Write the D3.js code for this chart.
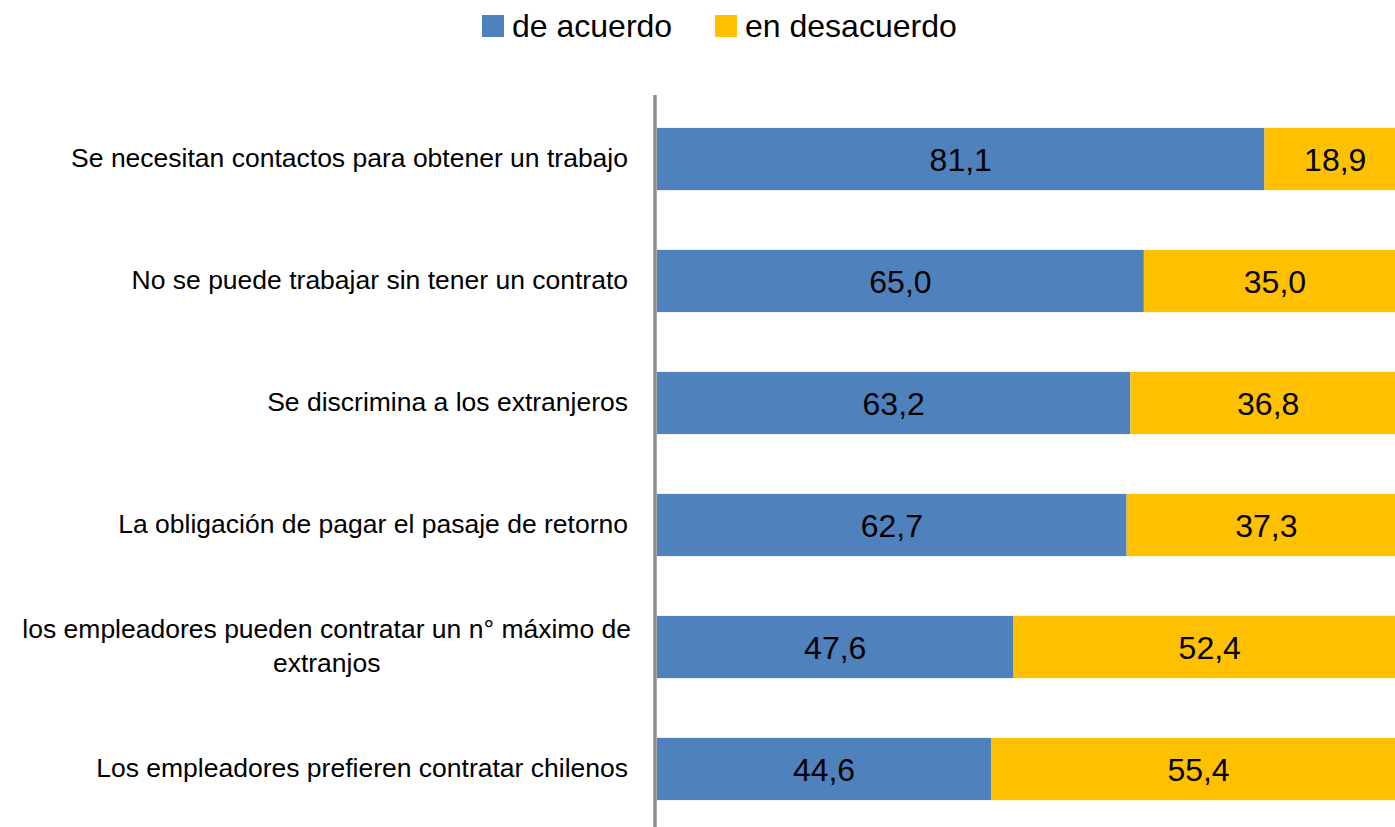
<!DOCTYPE html>
<meta charset="utf-8">
<html>
<head>
<script src="https://cdn.jsdelivr.net/npm/d3@7"></script>
<style>
  body { margin: 0; background: #fff; }
  svg { display: block; font-family: "Liberation Sans", Arial, sans-serif; }
  .axis-line { stroke: #8c8c8c; stroke-width: 3.5px; }
</style>
</head>
<body>
<div id="chart"></div>
<script>
// categories, top to bottom (wrapped labels split with "|")
var categories = [
  "Se necesitan contactos para obtener un trabajo",
  "No se puede trabajar sin tener un contrato",
  "Se discrimina a los extranjeros",
  "La obligación de pagar el pasaje de retorno",
  "los empleadores pueden contratar un n° máximo de|extranjos",
  "Los empleadores prefieren contratar chilenos"
];
var deAcuerdo    = [81.1, 65.0, 63.2, 62.7, 47.6, 44.6];
var enDesacuerdo = [18.9, 35.0, 36.8, 37.3, 52.4, 55.4];
var seriesNames  = ["de acuerdo", "en desacuerdo"];
var seriesColors = ["#4f81bd", "#ffc000"];

var width = 1395, height = 827;

var svg = d3.select("#chart").append("svg")
    .attr("width", width)
    .attr("height", height);

var x = d3.scaleLinear().domain([0, 100]).range([657, 1406]);
var y = d3.scaleBand().domain(categories).range([98, 830]).paddingInner(0.49).paddingOuter(0.245);

var rows = categories.map(function(c, i) {
  return { cat: c, vals: [deAcuerdo[i], enDesacuerdo[i]] };
});

var stack = d3.stack().keys([0, 1]).value(function(d, k) { return d.vals[k]; });
var layers = stack(rows);

// bars
var g = svg.append("g");
layers.forEach(function(layer, k) {
  g.selectAll(".bar" + k)
    .data(layer)
    .enter().append("rect")
    .attr("class", "bar" + k)
    .attr("x", function(d) { return x(d[0]); })
    .attr("width", function(d) { return x(d[1]) - x(d[0]); })
    .attr("y", function(d) { return y(d.data.cat); })
    .attr("height", y.bandwidth())
    .attr("fill", seriesColors[k]);

  g.selectAll(".val" + k)
    .data(layer)
    .enter().append("text")
    .attr("x", function(d) { return (x(d[0]) + x(d[1])) / 2; })
    .attr("y", function(d) { return y(d.data.cat) + y.bandwidth() / 2; })
    .attr("dy", "0.36em")
    .attr("text-anchor", "middle")
    .attr("font-size", "32px")
    .attr("fill", "#000")
    .text(function(d) { return d3.format(".1f")(d[1] - d[0]).replace(".", ","); });
});

// vertical axis line
svg.append("line")
  .attr("class", "axis-line")
  .attr("x1", 655).attr("x2", 655)
  .attr("y1", 95).attr("y2", height);

// category labels
var labels = svg.append("g").selectAll("text")
  .data(categories)
  .enter().append("text")
  .attr("font-size", "26.5px")
  .attr("fill", "#000");

labels.each(function(c) {
  var lines = c.split("|");
  var t = d3.select(this);
  var cy = y(c) + y.bandwidth() / 2;
  if (lines.length === 1) {
    t.attr("x", 628).attr("y", cy).attr("dy", "0.3em")
      .attr("text-anchor", "end").text(lines[0]);
  } else {
    // block right aligned, lines centred on each other
    var lh = 34;
    t.attr("text-anchor", "middle");
    lines.forEach(function(l, i) {
      t.append("tspan")
        .attr("x", 0)
        .attr("y", cy + (i - (lines.length - 1) / 2) * lh)
        .attr("dy", "0.3em")
        .text(l);
    });
    var w = this.getBBox().width;
    t.selectAll("tspan").attr("x", 631 - w / 2);
  }
});

// legend
var legend = svg.append("g");
var legX = [482, 715];
seriesNames.forEach(function(n, k) {
  legend.append("rect")
    .attr("x", legX[k]).attr("y", 15)
    .attr("width", 22).attr("height", 22)
    .attr("fill", seriesColors[k]);
  legend.append("text")
    .attr("x", legX[k] + 30).attr("y", 37)
    .attr("font-size", "32px")
    .attr("fill", "#000")
    .text(n);
});
</script>
</body>
</html>
